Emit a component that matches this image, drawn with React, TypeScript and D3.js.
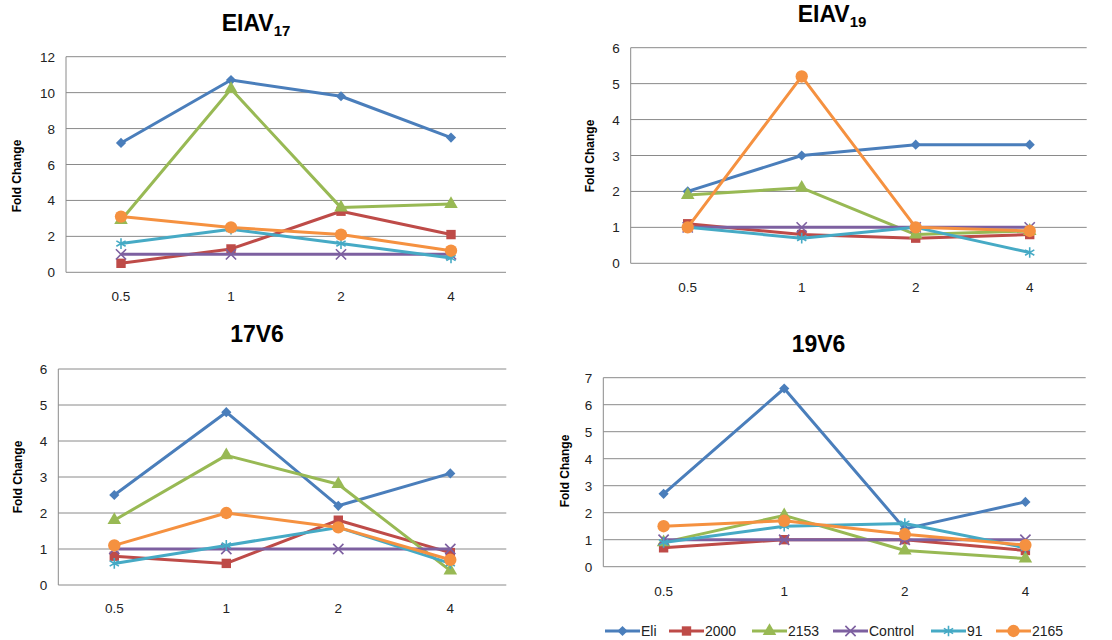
import * as d3 from "d3";

// time points (x categories) and series
const timePoints = ["0.5", "1", "2", "4"];
const seriesNames = ["Eli", "2000", "2153", "Control", "91", "2165"];
const seriesColors = ["#4A7EBB", "#BE4B48", "#98B954", "#7D60A0", "#46AAC5", "#F59140"];

// values per panel, one row per series (same order as seriesNames)
const eiav17 = [
  [7.2, 10.7, 9.8, 7.5],
  [0.5, 1.3, 3.4, 2.1],
  [2.9, 10.2, 3.6, 3.8],
  [1, 1, 1, 1],
  [1.6, 2.4, 1.6, 0.8],
  [3.1, 2.5, 2.1, 1.2],
];
const eiav19 = [
  [2.0, 3.0, 3.3, 3.3],
  [1.1, 0.8, 0.7, 0.8],
  [1.9, 2.1, 0.8, 0.9],
  [1, 1, 1, 1],
  [1.0, 0.7, 1.0, 0.3],
  [1.0, 5.2, 1.0, 0.9],
];
const v17v6 = [
  [2.5, 4.8, 2.2, 3.1],
  [0.8, 0.6, 1.8, 0.9],
  [1.8, 3.6, 2.8, 0.4],
  [1, 1, 1, 1],
  [0.6, 1.1, 1.6, 0.6],
  [1.1, 2.0, 1.6, 0.7],
];
const v19v6 = [
  [2.7, 6.6, 1.4, 2.4],
  [0.7, 1.0, 1.0, 0.6],
  [0.9, 1.9, 0.6, 0.3],
  [1, 1, 1, 1],
  [0.9, 1.5, 1.6, 0.7],
  [1.5, 1.7, 1.2, 0.8],
];

const FONT = "'Liberation Sans', Arial, sans-serif";
const GRID = "#8a8a8a";

type Panel = {
  title: string;
  sub?: string;
  data: number[][];
  yMax: number;
  yStep: number;
  left: number;
  right: number;
  top: number;
  bottom: number;
  titleX: number;
  titleY: number;
  labelX: number;
  labelY: number;
  tickY: number;
};

const panels: Panel[] = [
  { title: "EIAV", sub: "17", data: eiav17, yMax: 12, yStep: 2, left: 66, right: 506, top: 56.7, bottom: 272.3, titleX: 256, titleY: 30.5, labelX: 20.5, labelY: 176, tickY: 301 },
  { title: "EIAV", sub: "19", data: eiav19, yMax: 6, yStep: 1, left: 630.7, right: 1086.7, top: 47.7, bottom: 263.3, titleX: 832, titleY: 21.5, labelX: 594, labelY: 156, tickY: 292 },
  { title: "17V6", data: v17v6, yMax: 6, yStep: 1, left: 58.3, right: 506.3, top: 369, bottom: 585, titleX: 257, titleY: 342, labelX: 22, labelY: 477, tickY: 613 },
  { title: "19V6", data: v19v6, yMax: 7, yStep: 1, left: 603.3, right: 1085.7, top: 377.7, bottom: 566.7, titleX: 818.5, titleY: 351.5, labelX: 569, labelY: 471, tickY: 596 },
];

// Excel-style markers: diamond, square, triangle, x, star, circle
const symbolTypes = [
  d3.symbolSquare,
  d3.symbolSquare,
  d3.symbolTriangle,
  d3.symbolTimes,
  d3.symbolAsterisk,
  d3.symbolCircle,
];
const symbolSizes = [52, 88, 80, 70, 80, 120];
const symbolRotate = [45, 0, 0, 0, 0, 0];
const strokeSymbol = [false, false, false, true, true, false];

const Marker = ({ i, x, y }: { i: number; x: number; y: number }) => {
  const path = d3.symbol(symbolTypes[i], symbolSizes[i])() ?? "";
  const c = seriesColors[i];
  const tr = `translate(${x},${y}) rotate(${symbolRotate[i]})`;
  return strokeSymbol[i] ? (
    <path d={path} transform={tr} fill="none" stroke={c} strokeWidth={1.6} />
  ) : (
    <path d={path} transform={tr} fill={c} />
  );
};

const Chart = ({ p }: { p: Panel }) => {
  const x = d3.scaleBand<string>().domain(timePoints).range([p.left, p.right]);
  const y = d3.scaleLinear().domain([0, p.yMax]).range([p.bottom, p.top]);
  const ticks = d3.range(0, p.yMax + p.yStep / 2, p.yStep);
  const cx = (t: string) => (x(t) ?? 0) + x.bandwidth() / 2;
  const line = d3
    .line<number>()
    .x((_, k) => cx(timePoints[k]))
    .y((d) => y(d));

  return (
    <g>
      <text x={p.titleX} y={p.titleY} textAnchor="middle" fontFamily={FONT} fontWeight="bold" fontSize={23} fill="#000">
        {p.title}
        {p.sub && (
          <tspan fontSize={15} dy={5}>
            {p.sub}
          </tspan>
        )}
      </text>
      {ticks.map((t) => (
        <g key={t}>
          <line x1={p.left} x2={p.right} y1={y(t)} y2={y(t)} stroke={GRID} strokeWidth={1} />
          <text x={p.left - 11} y={y(t) + 5} textAnchor="end" fontFamily={FONT} fontSize={13.5} fill="#222">
            {t}
          </text>
        </g>
      ))}
      <line x1={p.left} x2={p.left} y1={p.top} y2={p.bottom} stroke={GRID} strokeWidth={1} />
      {timePoints.map((t) => (
        <text key={t} x={cx(t)} y={p.tickY} textAnchor="middle" fontFamily={FONT} fontSize={13.5} fill="#222">
          {t}
        </text>
      ))}
      <text
        transform={`translate(${p.labelX},${p.labelY}) rotate(-90)`}
        textAnchor="middle"
        fontFamily={FONT}
        fontWeight="bold"
        fontSize={12}
        fill="#000"
      >
        Fold Change
      </text>
      {p.data.map((vals, i) => (
        <g key={seriesNames[i]}>
          <path d={line(vals) ?? ""} fill="none" stroke={seriesColors[i]} strokeWidth={3} strokeLinejoin="round" />
          {vals.map((v, k) => (
            <Marker key={k} i={i} x={cx(timePoints[k])} y={y(v)} />
          ))}
        </g>
      ))}
    </g>
  );
};

const legendX = [605, 669, 752, 833, 931, 996];

const Legend = () => (
  <g>
    {seriesNames.map((name, i) => (
      <g key={name} transform={`translate(${legendX[i]},631)`}>
        <line x1={0} x2={35} y1={0} y2={0} stroke={seriesColors[i]} strokeWidth={3} />
        <Marker i={i} x={17.5} y={0} />
        <text x={36} y={5} fontFamily={FONT} fontSize={14} fill="#222">
          {name}
        </text>
      </g>
    ))}
  </g>
);

export default function App() {
  return (
    <svg
      width={1112}
      height={640}
      style={{ position: "absolute", left: 0, top: 0, background: "#fff" }}
    >
      <rect width={1112} height={640} fill="#fff" />
      {panels.map((p) => (
        <Chart key={p.title + (p.sub ?? "")} p={p} />
      ))}
      <Legend />
    </svg>
  );
}
